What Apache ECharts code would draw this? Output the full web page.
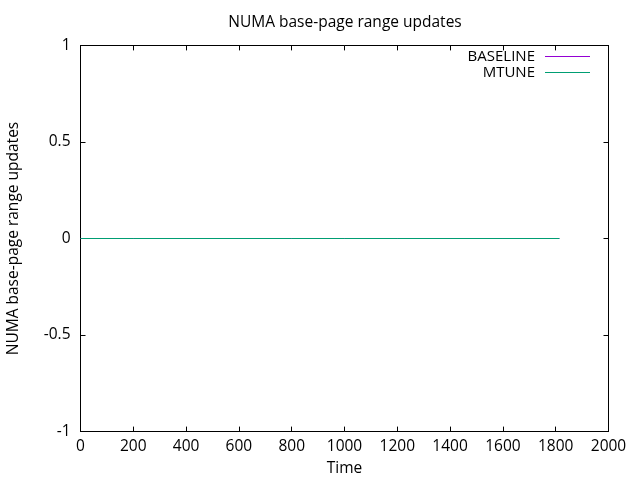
<!DOCTYPE html>
<html><head><meta charset="utf-8">
<script src="https://cdn.jsdelivr.net/npm/echarts@6/dist/echarts.min.js"></script>
<style>html,body{margin:0;padding:0;background:#fff}#c{width:640px;height:480px}</style>
</head><body><div id="c"></div>
<script>
const times = [0, 200, 400, 600, 800, 1000, 1200, 1400, 1600, 1814];
const baseline = [0, 0, 0, 0, 0, 0, 0, 0, 0, 0];
const mtune = [0, 0, 0, 0, 0, 0, 0, 0, 0, 0];
const seriesNames = ['BASELINE', 'MTUNE'];
const xTicks = {min: 0, max: 2000, interval: 200};
const yTicks = {min: -1, max: 1, interval: 0.5};

const FONT = 'Open Sans';
const FS = 15.5;
const chart = echarts.init(document.getElementById('c'));
const axisLine = {show: true, onZero: false, lineStyle: {color: '#000', width: 1}};
const tick = {show: true, inside: true, length: 5, lineStyle: {color: '#000'}};
const legendText = {fontFamily: FONT, fontSize: 15, color: '#000', padding: [0, 5, 0, 0]};
const legendIcon = 'path://M0,0H45V1H0Z';
chart.setOption({
  animation: false,
  title: {text: 'NUMA base-page range updates', left: 340, top: 10, textAlign: 'center',
    textStyle: {fontFamily: FONT, fontWeight: 'normal', fontSize: FS, color: '#000'}},
  legend: [
    {data: [seriesNames[0]], right: 45, top: 44, align: 'right', icon: legendIcon, itemWidth: 45, itemHeight: 1,
      textStyle: legendText},
    {data: [seriesNames[1]], right: 45, top: 60, align: 'right', icon: legendIcon, itemWidth: 45, itemHeight: 1,
      textStyle: legendText}
  ],
  grid: {left: 80.5, right: 31.5, top: 45.4, bottom: 48.4, containLabel: false, outerBoundsMode: 'none'},
  xAxis: [
    {type: 'value', min: xTicks.min, max: xTicks.max, interval: xTicks.interval, position: 'bottom',
      name: 'Time', nameLocation: 'middle', nameGap: 29,
      nameTextStyle: {fontFamily: FONT, fontSize: FS, color: '#000'},
      axisLine: axisLine, axisTick: tick, splitLine: {show: false},
      axisLabel: {fontFamily: FONT, fontSize: FS, color: '#000', margin: 7, formatter: v => String(v)}},
    {type: 'value', min: xTicks.min, max: xTicks.max, interval: xTicks.interval, position: 'top',
      axisLine: axisLine, axisTick: tick, splitLine: {show: false}, axisLabel: {show: false}}
  ],
  yAxis: [
    {type: 'value', min: yTicks.min, max: yTicks.max, interval: yTicks.interval, position: 'left',
      name: 'NUMA base-page range updates', nameLocation: 'middle', nameGap: 59,
      nameTextStyle: {fontFamily: FONT, fontSize: FS, color: '#000'},
      axisLine: axisLine, axisTick: tick, splitLine: {show: false},
      axisLabel: {fontFamily: FONT, fontSize: FS, color: '#000', margin: 10, formatter: v => String(v)}},
    {type: 'value', min: yTicks.min, max: yTicks.max, interval: yTicks.interval, position: 'right',
      axisLine: axisLine, axisTick: tick, splitLine: {show: false}, axisLabel: {show: false}}
  ],
  series: [
    {name: seriesNames[0], type: 'line', data: times.map((t, i) => [t, baseline[i]]), symbol: 'none',
      color: '#9400d3', lineStyle: {width: 1}},
    {name: seriesNames[1], type: 'line', data: times.map((t, i) => [t, mtune[i]]), symbol: 'none',
      color: '#009e73', lineStyle: {width: 1}}
  ]
});
</script></body></html>
